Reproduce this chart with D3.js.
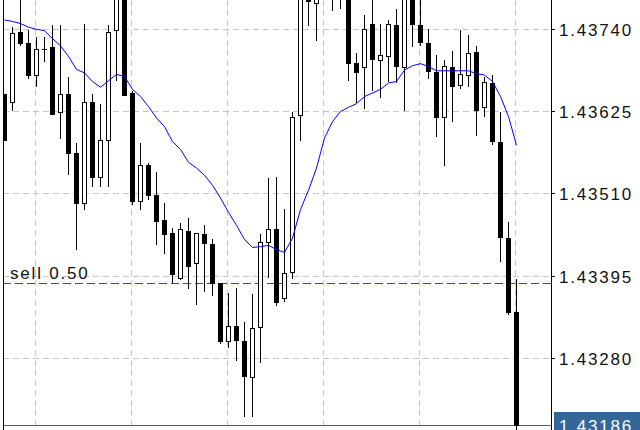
<!DOCTYPE html>
<html><head><meta charset="utf-8">
<script src="https://cdn.jsdelivr.net/npm/d3@7"></script>
<style>html,body{margin:0;padding:0;background:#fff;overflow:hidden}</style>
</head><body>
<svg id="c" width="640" height="430"></svg>
<script>
// ---- data ----
const opens  = [1.43649,1.43638,1.43735,1.43720,1.43675,1.43712,1.43714,1.43624,1.43649,1.43566,1.43497,1.43638,1.43533,1.43585,1.43739,1.43800,1.43650,1.43499,1.43549,1.43508,1.43472,1.43454,1.43392,1.43457,1.43412,1.43453,1.43439,1.43385,1.43303,1.43325,1.43304,1.43253,1.43323,1.43442,1.43460,1.43363,1.43400,1.43620,1.43790,1.43776,1.43800,1.43805,1.43790,1.43800,1.43692,1.43686,1.43747,1.43696,1.43702,1.43745,1.43686,1.43790,1.43746,1.43720,1.43679,1.43616,1.43687,1.43661,1.43676,1.43707,1.43630,1.43664,1.43582,1.43448,1.43344];
const closes = [1.43585,1.43734,1.43720,1.43675,1.43712,1.43712,1.43621,1.43649,1.43566,1.43496,1.43638,1.43533,1.43585,1.43736,1.43800,1.43648,1.43499,1.43550,1.43508,1.43471,1.43453,1.43397,1.43460,1.43408,1.43454,1.43440,1.43385,1.43304,1.43324,1.43305,1.43254,1.43322,1.43442,1.43460,1.43358,1.43398,1.43617,1.43792,1.43779,1.43795,1.43815,1.43790,1.43800,1.43692,1.43679,1.43740,1.43698,1.43703,1.43747,1.43688,1.43788,1.43747,1.43721,1.43681,1.43616,1.43688,1.43660,1.43677,1.43706,1.43626,1.43666,1.43583,1.43449,1.43344,1.43186];
const highs  = [1.43649,1.43743,1.43788,1.43738,1.43729,1.43729,1.43745,1.43745,1.43673,1.43581,1.43747,1.43649,1.43635,1.43745,1.43810,1.43815,1.43653,1.43580,1.43553,1.43540,1.43496,1.43462,1.43469,1.43476,1.43454,1.43466,1.43446,1.43385,1.43370,1.43377,1.43330,1.43369,1.43453,1.43531,1.43533,1.43488,1.43623,1.43795,1.43802,1.43802,1.43830,1.43820,1.43815,1.43810,1.43706,1.43759,1.43788,1.43747,1.43753,1.43767,1.43792,1.43800,1.43785,1.43740,1.43704,1.43697,1.43709,1.43738,1.43732,1.43716,1.43673,1.43675,1.43624,1.43470,1.43390];
const lows   = [1.43585,1.43626,1.43717,1.43671,1.43660,1.43695,1.43621,1.43587,1.43537,1.43432,1.43488,1.43520,1.43520,1.43520,1.43668,1.43647,1.43495,1.43488,1.43502,1.43439,1.43426,1.43386,1.43390,1.43378,1.43355,1.43373,1.43368,1.43300,1.43295,1.43277,1.43198,1.43198,1.43274,1.43393,1.43354,1.43359,1.43391,1.43585,1.43745,1.43724,1.43790,1.43766,1.43769,1.43669,1.43637,1.43629,1.43655,1.43644,1.43667,1.43665,1.43627,1.43716,1.43718,1.43671,1.43590,1.43549,1.43611,1.43657,1.43660,1.43591,1.43618,1.43579,1.43415,1.43341,1.43178];
const maValues = [1.43753,1.43751,1.43748,1.43743,1.43740,1.43738,1.43727,1.43717,1.43702,1.43684,1.43679,1.43667,1.43659,1.43668,1.43677,1.43674,1.43656,1.43646,1.43632,1.43616,1.43604,1.43583,1.43572,1.43554,1.43546,1.43536,1.43522,1.43504,1.43484,1.43466,1.43446,1.43435,1.43436,1.43438,1.43432,1.43428,1.43448,1.43488,1.43515,1.43546,1.43588,1.43611,1.43625,1.43631,1.43636,1.43646,1.43651,1.43656,1.43665,1.43667,1.43683,1.43689,1.43692,1.43688,1.43682,1.43682,1.43682,1.43682,1.43682,1.43678,1.43676,1.43667,1.43646,1.43618,1.43578];
const priceTicks = [1.43740,1.43625,1.43510,1.43395,1.43280];
const gridBars = [4,16,28,40,52,64];
const sellPrice = 1.43385;
const sellLabel = "sell 0.50";
const lastPrice = 1.43186;

// ---- layout ----
const W = 640, H = 430, plotL = 3, plotR = 551;
const svg = d3.select('#c');
svg.append('rect').attr('width',W).attr('height',H).attr('fill','#fff');
const x = d3.scaleLinear().domain([0, opens.length-1]).range([4.5, 4.5 + 8*(opens.length-1)]);
const y = d3.scaleLinear().domain([1.43280, 1.43740]).range([358.3, 29.3]);
const sy = v => Math.floor(v) + 0.5;
const fmt = d3.format('.5f');
const FONT = "'Liberation Sans', Arial, sans-serif";

svg.append('defs').append('clipPath').attr('id','clip')
  .append('rect').attr('x',plotL).attr('y',0).attr('width',plotR-plotL).attr('height',H);

// grid
const grid = svg.append('g').attr('stroke','#c8c8c8').attr('stroke-width',1).attr('stroke-dasharray','6,4');
grid.selectAll('line.h').data(priceTicks).join('line').attr('class','h')
  .attr('x1',plotL).attr('x2',plotR).attr('y1',d=>sy(y(d))).attr('y2',d=>sy(y(d)));
grid.selectAll('line.v').data(gridBars).join('line').attr('class','v')
  .attr('x1',d=>x(d)-1).attr('x2',d=>x(d)-1).attr('y1',0).attr('y2',H);

// sell line
svg.append('line').attr('x1',plotL).attr('x2',plotR).attr('y1',sy(y(sellPrice))).attr('y2',sy(y(sellPrice)))
  .attr('stroke','#008000').attr('stroke-width',1).attr('stroke-dasharray','8,4');
svg.append('text').attr('x',10).attr('y',sy(y(sellPrice))-4.5).text(sellLabel)
  .attr('font-family',FONT).attr('font-size',17).attr('letter-spacing',1.8).attr('fill','#111');

// last price line
svg.append('line').attr('x1',plotL).attr('x2',plotR).attr('y1',sy(y(lastPrice))).attr('y2',sy(y(lastPrice)))
  .attr('stroke','#336699').attr('stroke-width',1);

// candles
const data = opens.map((o,i)=>({i, o, c:closes[i], h:highs[i], l:lows[i]}));
const plot = svg.append('g').attr('clip-path','url(#clip)');
const cg = plot.selectAll('g.candle').data(data).join('g').attr('class','candle');
cg.append('line')
  .attr('x1',d=>x(d.i)).attr('x2',d=>x(d.i))
  .attr('y1',d=>Math.floor(y(d.h))).attr('y2',d=>Math.floor(y(d.l))+1)
  .attr('stroke','#000').attr('stroke-width',1);
cg.each(function(d){
  const g = d3.select(this);
  const t = sy(y(Math.max(d.o,d.c))), b = sy(y(Math.min(d.o,d.c)));
  if (b - t < 1) {
    g.append('line').attr('x1',x(d.i)-2.5).attr('x2',x(d.i)+2.5).attr('y1',t).attr('y2',t)
      .attr('stroke','#000').attr('stroke-width',1);
  } else {
    g.append('rect').attr('x',x(d.i)-2).attr('y',t).attr('width',4).attr('height',b-t)
      .attr('fill', d.c >= d.o ? '#fff' : '#000').attr('stroke','#000').attr('stroke-width',1);
  }
});

// moving average
plot.append('path').datum(maValues)
  .attr('d', d3.line().x((d,i)=>x(i)).y(d=>y(d)))
  .attr('fill','none').attr('stroke','#0000ff').attr('stroke-width',1);

// left border
svg.append('line').attr('x1',plotL+0.5).attr('x2',plotL+0.5).attr('y1',0).attr('y2',H)
  .attr('stroke','#000').attr('stroke-width',1);

// right price axis
const ax = svg.append('g');
ax.append('line').attr('x1',plotR+0.5).attr('x2',plotR+0.5).attr('y1',0).attr('y2',H)
  .attr('stroke','#000').attr('stroke-width',1);
ax.selectAll('line.t').data(priceTicks).join('line').attr('class','t')
  .attr('x1',plotR+1).attr('x2',plotR+4).attr('y1',d=>sy(y(d))).attr('y2',d=>sy(y(d)))
  .attr('stroke','#000');
ax.selectAll('text.t').data(priceTicks).join('text').attr('class','t')
  .attr('x',559).attr('y',d=>sy(y(d))+6.5).text(d=>fmt(d))
  .attr('font-family',FONT).attr('font-size',17).attr('letter-spacing',1.8).attr('fill','#111');

// last price tag
const ly = sy(y(lastPrice));
svg.append('rect').attr('x',554).attr('y',ly-13.5).attr('width',86).attr('height',28).attr('fill','#336699');
svg.append('text').attr('x',559).attr('y',ly+6.5).text(fmt(lastPrice))
  .attr('font-family',FONT).attr('font-size',17).attr('letter-spacing',1.8).attr('fill','#fff');
</script>
</body></html>
